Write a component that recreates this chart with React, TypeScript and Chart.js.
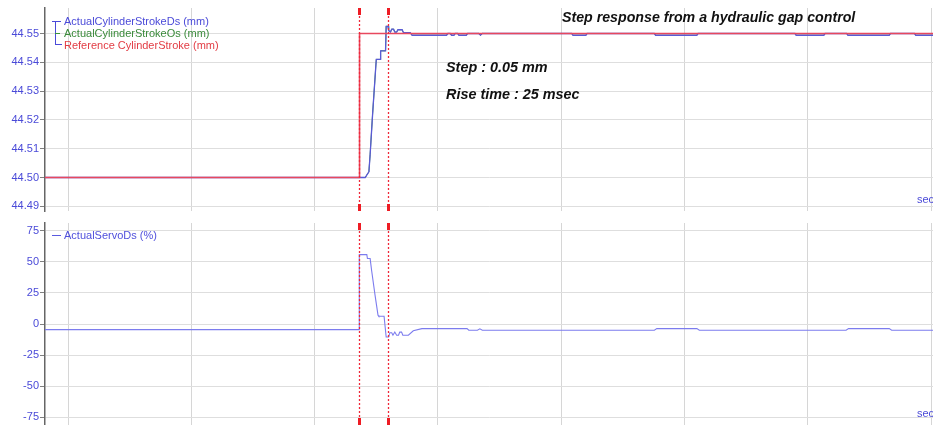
import React, { useEffect, useRef } from "react";
import { Chart, registerables } from "chart.js";

Chart.register(...registerables);

// ---- Data (time in seconds) ----
const X_MIN = -0.0187;
const X_MAX = 0.7015;
const X_GRID = [0, 0.1, 0.2, 0.3, 0.4, 0.5, 0.6, 0.7];
const MARKER_TIMES = [0.236, 0.2595];

const STROKE_TICKS = [44.49, 44.5, 44.51, 44.52, 44.53, 44.54, 44.55];
const STROKE_MIN = 44.488368;
const STROKE_MAX = 44.558854;

const SERVO_TICKS = [-75, -50, -25, 0, 25, 50, 75];
const SERVO_MIN = -81.2;
const SERVO_MAX = 81.2;

const DS_TIME = [
  -0.0187, 0.241, 0.2425, 0.244, 0.245, 0.247, 0.2495, 0.25, 0.253, 0.2535, 0.2575, 0.258, 0.2595, 0.26,
  0.2615, 0.2625, 0.264, 0.265, 0.2665, 0.2675, 0.271, 0.272, 0.2775, 0.279, 0.307, 0.308, 0.31, 0.311,
  0.313, 0.314, 0.316, 0.317, 0.323, 0.324, 0.333, 0.3345, 0.336, 0.4085, 0.4095, 0.42, 0.421, 0.4755,
  0.4765, 0.51, 0.511, 0.5895, 0.5905, 0.613, 0.614, 0.6315, 0.6325, 0.666, 0.667, 0.6865, 0.6875, 0.71,
];
const DS_VALUE = [
  44.5, 44.5, 44.501, 44.502, 44.508, 44.522, 44.538, 44.541, 44.541, 44.544, 44.544, 44.5525, 44.5525, 44.551,
  44.5505, 44.5515, 44.5515, 44.5505, 44.5505, 44.5513, 44.5513, 44.5503, 44.5503, 44.5494, 44.5494, 44.55, 44.55, 44.5494,
  44.5494, 44.55, 44.55, 44.5494, 44.5494, 44.55, 44.55, 44.5494, 44.55, 44.55, 44.5494, 44.5494, 44.55, 44.55,
  44.5494, 44.5494, 44.55, 44.55, 44.5494, 44.5494, 44.55, 44.55, 44.5494, 44.5494, 44.55, 44.55, 44.5494, 44.5494,
];
const OS_TIME = DS_TIME;
const OS_VALUE = DS_VALUE;

const REF_TIME = [-0.0187, 0.2364, 0.2364, 0.71];
const REF_VALUE = [44.5, 44.5, 44.55, 44.55];

const SERVO_TIME = [
  -0.0187, 0.236, 0.2362, 0.2423, 0.2428, 0.245, 0.2462, 0.249, 0.2514, 0.252, 0.2563, 0.258, 0.26, 0.261,
  0.2625, 0.2635, 0.265, 0.2665, 0.268, 0.269, 0.2705, 0.2715, 0.276, 0.28, 0.287, 0.3236, 0.325, 0.332,
  0.334, 0.336, 0.4755, 0.4775, 0.51, 0.512, 0.631, 0.633, 0.666, 0.668, 0.71,
];
const SERVO_VALUE = [
  -4.5, -4.5, 55.8, 55.8, 52.6, 52.6, 43, 23, 7, 6.2, 6.2, -10.4, -10.4, -7,
  -7, -9, -6.5, -9, -9, -6.5, -6.5, -9, -9, -5.5, -3.7, -3.7, -5, -5,
  -3.9, -5, -5, -3.7, -3.7, -5, -5, -3.7, -3.7, -5, -5,
];

const pts = (t: number[], v: number[]) => t.map((x, i) => ({ x, y: v[i] }));

const FONT = "Arial, 'Liberation Sans', sans-serif";
const AXIS_BLUE = "#4a4ad8";

const markerPlugin = {
  id: "stepMarkers",
  afterDatasetsDraw(chart: any) {
    const { ctx, chartArea, scales } = chart;
    const { top, bottom } = chartArea;
    ctx.save();
    MARKER_TIMES.forEach((t) => {
      const px = Math.round(scales.x.getPixelForValue(t)) + 0.5;
      ctx.strokeStyle = "#f0283a";
      ctx.lineWidth = 1.3;
      ctx.setLineDash([2, 2]);
      ctx.beginPath();
      ctx.moveTo(px, top);
      ctx.lineTo(px, bottom);
      ctx.stroke();
      ctx.setLineDash([]);
      ctx.strokeStyle = "#ee1c24";
      ctx.lineWidth = 3;
      ctx.beginPath();
      ctx.moveTo(px, top);
      ctx.lineTo(px, top + 7);
      ctx.moveTo(px, bottom - 7);
      ctx.lineTo(px, bottom);
      ctx.stroke();
    });
    ctx.restore();
  },
};

function makeOptions(yMin: number, yMax: number, yTicks: number[], fmt: (v: number) => string, padTop: number, padBottom: number) {
  return {
    animation: false,
    responsive: false,
    maintainAspectRatio: false,
    layout: { padding: { top: padTop, bottom: padBottom, left: 0, right: 0 } },
    plugins: { legend: { display: false }, tooltip: { enabled: false }, title: { display: false } },
    elements: { point: { radius: 0 }, line: { tension: 0, borderWidth: 1.5 } },
    scales: {
      x: {
        type: "linear",
        min: X_MIN,
        max: X_MAX,
        afterBuildTicks: (s: any) => {
          s.ticks = X_GRID.map((value) => ({ value }));
        },
        afterFit: (s: any) => {
          s.height = 0;
          s.paddingLeft = 0;
          s.paddingRight = 0;
        },
        grid: { color: "#d6d6d6", lineWidth: 1, drawTicks: false },
        border: { display: false },
        ticks: { display: false },
      },
      y: {
        type: "linear",
        min: yMin,
        max: yMax,
        afterBuildTicks: (s: any) => {
          s.ticks = yTicks.map((value) => ({ value }));
        },
        afterFit: (s: any) => {
          s.width = 45;
          s.paddingTop = 0;
          s.paddingBottom = 0;
        },
        grid: { color: "#dedede", lineWidth: 1, drawTicks: true, tickLength: 5, tickColor: "#808080" },
        border: { display: true, color: "#666666", width: 1.5 },
        ticks: {
          color: AXIS_BLUE,
          padding: 1,
          font: { family: FONT, size: 11 },
          callback: (v: any) => fmt(Number(v)),
        },
      },
    },
  };
}

function StrokeChart() {
  const ref = useRef<HTMLCanvasElement | null>(null);
  useEffect(() => {
    if (!ref.current) return;
    const chart = new Chart(ref.current, {
      type: "line",
      data: {
        datasets: [
          { label: "Reference CylinderStroke (mm)", data: pts(REF_TIME, REF_VALUE), borderColor: "#e8485e", borderWidth: 1.6, order: 0 },
          { label: "ActualCylinderStrokeDs (mm)", data: pts(DS_TIME, DS_VALUE), borderColor: "#5a5ad6", borderWidth: 1.3, order: 1 },
          { label: "ActualCylinderStrokeOs (mm)", data: pts(OS_TIME, OS_VALUE), borderColor: "#3a963a", borderWidth: 1, order: 2 },
        ],
      },
      options: makeOptions(STROKE_MIN, STROKE_MAX, STROKE_TICKS, (v) => v.toFixed(2), 8, 4) as any,
      plugins: [markerPlugin],
    });
    return () => chart.destroy();
  }, []);
  return <canvas ref={ref} width={933} height={215} style={{ position: "absolute", left: 0, top: 0 }} />;
}

function ServoChart() {
  const ref = useRef<HTMLCanvasElement | null>(null);
  useEffect(() => {
    if (!ref.current) return;
    const chart = new Chart(ref.current, {
      type: "line",
      data: {
        datasets: [{ label: "ActualServoDs (%)", data: pts(SERVO_TIME, SERVO_VALUE), borderColor: "#7c7cee", borderWidth: 1.1 }],
      },
      options: makeOptions(SERVO_MIN, SERVO_MAX, SERVO_TICKS, (v) => String(v), 8, 0) as any,
      plugins: [markerPlugin],
    });
    return () => chart.destroy();
  }, []);
  return <canvas ref={ref} width={933} height={210} style={{ position: "absolute", left: 0, top: 215 }} />;
}

const txt = (left: number, centerY: number, size: number, color: string, extra: any = {}) => ({
  position: "absolute" as const,
  left,
  top: centerY - size / 2 - 1,
  fontSize: size,
  lineHeight: `${size + 2}px`,
  color,
  fontFamily: FONT,
  whiteSpace: "nowrap" as const,
  ...extra,
});

const line = (left: number, top: number, width: number, height: number, color: string) => ({
  position: "absolute" as const,
  left,
  top,
  width,
  height,
  background: color,
});

export default function App() {
  const bold = { fontWeight: "bold", fontStyle: "italic" };
  return (
    <div style={{ position: "absolute", left: 0, top: 0, width: 933, height: 425, overflow: "hidden", background: "#fff" }}>
      <StrokeChart />
      <ServoChart />
      {/* top legend */}
      <div style={line(52, 21, 9, 1, "#4a4ad8")} />
      <div style={line(55, 21, 1, 24, "#4a4ad8")} />
      <div style={line(55, 33, 5, 1, "#3a963a")} />
      <div style={line(55, 44, 7, 1, "#4a4ad8")} />
      <div style={txt(64, 21.5, 11, "#4a4ad8")}>ActualCylinderStrokeDs (mm)</div>
      <div style={txt(64, 33.5, 11, "#3a8a3a")}>ActualCylinderStrokeOs (mm)</div>
      <div style={txt(64, 45, 11, "#e23c44")}>Reference CylinderStroke (mm)</div>
      {/* bottom legend */}
      <div style={line(52, 235, 9, 1, "#5a5ae0")} />
      <div style={txt(64, 235.5, 11, "#5050dc")}>ActualServoDs (%)</div>
      {/* annotations */}
      <div style={txt(562, 17, 14.2, "#111", bold)}>Step response from a hydraulic gap control</div>
      <div style={txt(446, 67, 14.4, "#111", bold)}>Step : 0.05 mm</div>
      <div style={txt(446, 94, 14.4, "#111", bold)}>Rise time : 25 msec</div>
      <div style={txt(917, 199, 11, "#4a4ad8")}>sec</div>
      <div style={txt(917, 413, 11, "#4a4ad8")}>sec</div>
    </div>
  );
}
